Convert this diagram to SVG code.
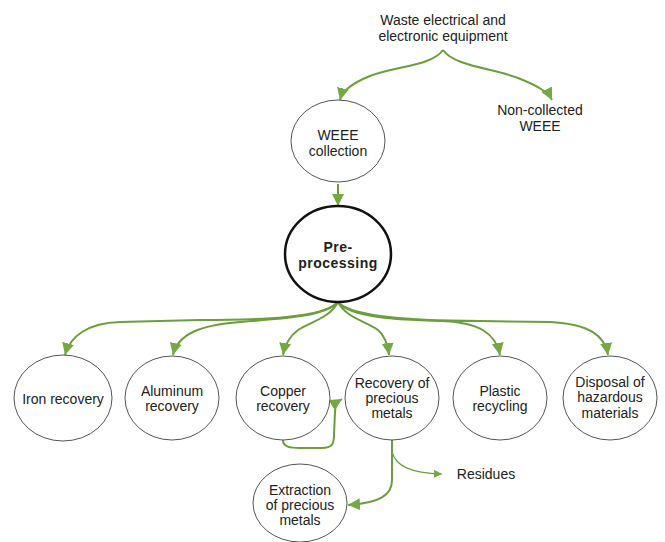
<svg xmlns="http://www.w3.org/2000/svg" width="665" height="542" viewBox="0 0 665 542">
<defs>
<style>
text{font-family:"Liberation Sans",Arial,sans-serif;font-size:14px;fill:#222;text-anchor:middle}
.n{fill:#fff;stroke:#555;stroke-width:1}
.b{fill:#fff;stroke:#111;stroke-width:2.5}
.c{fill:none;stroke:#6b9e3c;stroke-width:2}
.t{fill:none;stroke:#6b9e3c;stroke-width:1.2}
.bold{font-weight:bold;letter-spacing:0.5px}
</style>
<marker id="ah" markerUnits="userSpaceOnUse" markerWidth="13" markerHeight="13" refX="12" refY="6" orient="auto" viewBox="0 0 13 12">
<path d="M0,0 L12,6 L0,12 z" fill="#74a843"/>
</marker>
<marker id="as" markerUnits="userSpaceOnUse" markerWidth="9" markerHeight="9" refX="8" refY="4" orient="auto" viewBox="0 0 9 8">
<path d="M0,0 L8,4 L0,8 z" fill="#74a843"/>
</marker>
</defs>
<rect width="665" height="542" fill="#fff"/>
<g id="connectors">
<path class="c" d="M443,50 C432,66 395,66 370,76 C350,84 342,92 340,100" marker-end="url(#ah)"/>
<path class="c" d="M443,50 C454,66 492,68 518,78 C538,86 548,92 552,100" marker-end="url(#ah)"/>
<path class="c" d="M338,184 L338,206" marker-end="url(#ah)"/>
<path class="c" d="M338,302 C325,318 260,320 200,320 L120,322 C88,323 70,336 65,355" marker-end="url(#ah)"/>
<path class="c" d="M338,302 C325,316 290,318 240,322 C200,325 178,334 173,355" marker-end="url(#ah)"/>
<path class="c" d="M338,302 C330,318 310,322 298,330 C290,336 285,344 283,355" marker-end="url(#ah)"/>
<path class="c" d="M338,302 C346,318 368,322 378,330 C386,337 388,346 389,355" marker-end="url(#ah)"/>
<path class="c" d="M338,302 C350,318 400,320 440,321 C480,322 496,334 500,355" marker-end="url(#ah)"/>
<path class="c" d="M338,302 C352,318 420,321 480,321 L550,322 C590,324 605,336 608,355" marker-end="url(#ah)"/>
<path class="c" d="M283,440 C283,447 290,448 300,448 L322,448 C332,448 334,444 334,435 L335,412 C335,406 337,402 342,399" marker-end="url(#ah)"/>
<path class="c" d="M392,440 L392,480 C392,495 380,503 348,505" marker-end="url(#ah)"/>
<path class="t" d="M392,452 C396,466 410,473 442,474" marker-end="url(#as)"/>
</g>
<g id="top"><text x="443" y="25">Waste electrical and</text><text x="443" y="41">electronic equipment</text></g>
<g id="noncollected"><text x="540" y="115">Non-collected</text><text x="540" y="131">WEEE</text></g>
<g id="collection"><ellipse class="n" cx="338" cy="141" rx="47" ry="41"/><text x="338" y="140">WEEE</text><text x="338" y="156">collection</text></g>
<g id="preprocessing"><ellipse class="b" cx="338" cy="254" rx="53" ry="48"/><text class="bold" x="338" y="252">Pre-</text><text class="bold" x="338" y="268">processing</text></g>
<g id="iron"><ellipse class="n" cx="63" cy="398" rx="49" ry="43"/><text x="63" y="404">Iron recovery</text></g>
<g id="aluminum"><ellipse class="n" cx="172" cy="398" rx="47" ry="42"/><text x="172" y="396">Aluminum</text><text x="172" y="411">recovery</text></g>
<g id="copper"><ellipse class="n" cx="283" cy="398" rx="47" ry="42"/><text x="283" y="396">Copper</text><text x="283" y="411">recovery</text></g>
<g id="precious"><ellipse class="n" cx="392" cy="398" rx="47" ry="42"/><text x="392" y="388">Recovery of</text><text x="392" y="403">precious</text><text x="392" y="418">metals</text></g>
<g id="plastic"><ellipse class="n" cx="500" cy="398" rx="47" ry="42"/><text x="500" y="396">Plastic</text><text x="500" y="411">recycling</text></g>
<g id="hazardous"><ellipse class="n" cx="610" cy="398" rx="47" ry="42"/><text x="610" y="387">Disposal of</text><text x="610" y="402">hazardous</text><text x="610" y="418">materials</text></g>
<g id="extraction"><ellipse class="n" cx="300" cy="503" rx="47" ry="39"/><text x="300" y="495">Extraction</text><text x="300" y="510">of precious</text><text x="300" y="525">metals</text></g>
<g id="residues"><text x="486" y="479">Residues</text></g>
</svg>
